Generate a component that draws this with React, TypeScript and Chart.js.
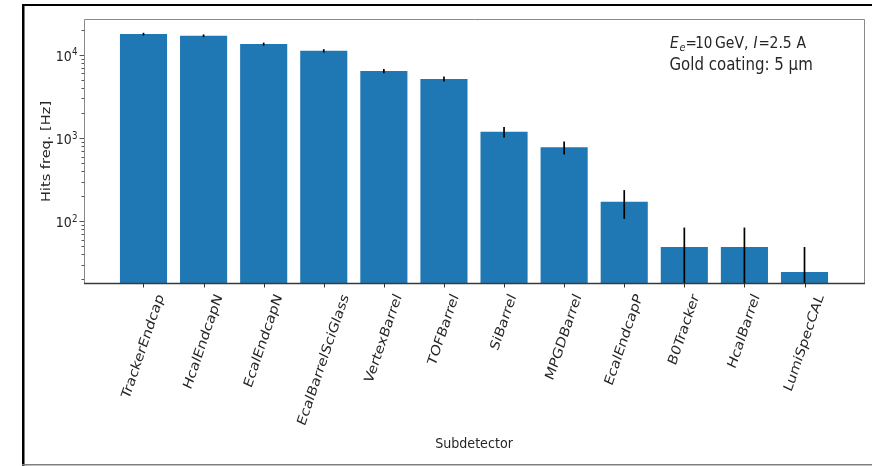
import { useEffect, useRef } from 'react';
import { Chart, registerables } from 'chart.js';

Chart.register(...registerables);

const categories = [
  'TrackerEndcap',
  'HcalEndcapN',
  'EcalEndcapN',
  'EcalBarrelSciGlass',
  'VertexBarrel',
  'TOFBarrel',
  'SiBarrel',
  'MPGDBarrel',
  'EcalEndcapP',
  'B0Tracker',
  'HcalBarrel',
  'LumiSpecCAL',
];
const hitsFreq = [17800, 17000, 13500, 11200, 6400, 5150, 1190, 775, 172, 49, 49, 24.5];
const hitsErr = [660, 640, 575, 525, 395, 355, 170, 138, 65, 35, 35, 24.5];
const yMajorTicks = [100, 1000, 10000];
const yMajorExponents = ['2', '3', '4'];
const yRange = [18.1, 26300];
const xRange = [-0.99, 11.99];
const xAxisTitle = 'Subdetector';
const yAxisTitle = 'Hits freq. [Hz]';
const noteLine2 = 'Gold coating: 5 \u03bcm';

const FONT = '"DejaVu Sans", "Liberation Sans", sans-serif';
const TEXT = '#262626';
const STRETCH = 1.13; // the reference picture is stretched vertically
const XLABEL_STRETCH = 1.19;

function txt(ctx: CanvasRenderingContext2D, s: string, x: number, y: number, font: string) {
  ctx.save();
  ctx.font = font;
  ctx.translate(x, y);
  ctx.scale(1, STRETCH);
  ctx.fillText(s, 0, 0);
  ctx.restore();
}

const drawPlugin = {
  id: 'mplLook',
  beforeDraw(chart: any) {
    const ctx = chart.ctx as CanvasRenderingContext2D;
    ctx.save();
    ctx.fillStyle = '#ffffff';
    ctx.fillRect(0, 0, chart.width, chart.height);
    // outer frame
    ctx.fillStyle = '#000000';
    ctx.fillRect(22, 4, chart.width - 22, 2);
    ctx.fillRect(22, 4, 2.5, chart.height - 4);
    ctx.fillStyle = '#7f7f7f';
    ctx.fillRect(22, 464, chart.width - 22, 1.5);
    ctx.restore();
  },
  afterDatasetsDraw(chart: any) {
    const ctx = chart.ctx as CanvasRenderingContext2D;
    const xs = chart.scales.x;
    const ys = chart.scales.y;
    const area = chart.chartArea;

    // error bars
    ctx.save();
    ctx.beginPath();
    ctx.rect(area.left, area.top, area.right - area.left, area.bottom - area.top);
    ctx.clip();
    ctx.strokeStyle = '#000000';
    ctx.lineWidth = 1.7;
    hitsFreq.forEach((v, i) => {
      const x = xs.getPixelForValue(i);
      const lo = v - hitsErr[i];
      const yLo = lo > 0 ? Math.min(ys.getPixelForValue(lo), area.bottom) : area.bottom;
      const yHi = ys.getPixelForValue(v + hitsErr[i]);
      ctx.beginPath();
      ctx.moveTo(x, yLo);
      ctx.lineTo(x, yHi);
      ctx.stroke();
    });
    ctx.restore();

    ctx.save();
    // spines
    ctx.lineWidth = 1;
    ctx.strokeStyle = '#8a8a8a';
    ctx.beginPath();
    ctx.moveTo(area.left + 0.5, area.bottom);
    ctx.lineTo(area.left + 0.5, area.top - 0.5);
    ctx.lineTo(area.right + 0.5, area.top - 0.5);
    ctx.lineTo(area.right + 0.5, area.bottom);
    ctx.stroke();
    ctx.strokeStyle = '#3a3a3a';
    ctx.lineWidth = 1.4;
    ctx.beginPath();
    ctx.moveTo(area.left, area.bottom + 0.5);
    ctx.lineTo(area.right + 1, area.bottom + 0.5);
    ctx.stroke();

    // y ticks
    ctx.strokeStyle = '#555555';
    ctx.lineWidth = 1;
    const [ymin, ymax] = yRange;
    for (let e = Math.floor(Math.log10(ymin)); e <= Math.ceil(Math.log10(ymax)); e++) {
      for (let k = 1; k <= 9; k++) {
        const v = k * Math.pow(10, e);
        if (v < ymin || v > ymax) continue;
        const y = Math.round(ys.getPixelForValue(v)) + 0.5;
        const len = k === 1 ? 4.5 : 2.5;
        ctx.beginPath();
        ctx.moveTo(area.left - len, y);
        ctx.lineTo(area.left, y);
        ctx.stroke();
      }
    }
    // y tick labels
    ctx.fillStyle = TEXT;
    ctx.textBaseline = 'alphabetic';
    yMajorTicks.forEach((v, i) => {
      const y = ys.getPixelForValue(v);
      ctx.font = `8.7px ${FONT}`;
      const supW = ctx.measureText(yMajorExponents[i]).width;
      ctx.textAlign = 'right';
      const right = area.left - 6.5;
      txt(ctx, yMajorExponents[i], right, y + 0.5, `8.7px ${FONT}`);
      txt(ctx, '10', right - supW - 0.3, y + 6, `12.6px ${FONT}`);
    });

    // x ticks
    ctx.strokeStyle = '#333333';
    ctx.lineWidth = 1;
    categories.forEach((_, i) => {
      const x = Math.round(xs.getPixelForValue(i)) + 0.5;
      ctx.beginPath();
      ctx.moveTo(x, area.bottom);
      ctx.lineTo(x, area.bottom + 4.5);
      ctx.stroke();
    });

    // x tick labels rotated, bbox centred under tick
    const xFont = 12.8;
    ctx.font = `${xFont}px ${FONT}`;
    const ang = (68 * Math.PI) / 180;
    const lh = xFont * 1.1;
    categories.forEach((label, i) => {
      const x = xs.getPixelForValue(i);
      const w = ctx.measureText(label).width;
      const H = XLABEL_STRETCH * (w * Math.sin(ang) + lh * Math.cos(ang));
      const cy = area.bottom + 9 + H / 2;
      ctx.save();
      ctx.translate(x, cy);
      ctx.scale(1, XLABEL_STRETCH);
      ctx.rotate(-ang);
      ctx.textAlign = 'center';
      ctx.textBaseline = 'middle';
      ctx.fillText(label, 0, 0);
      ctx.restore();
    });

    // axis titles
    ctx.textAlign = 'center';
    ctx.textBaseline = 'alphabetic';
    txt(ctx, xAxisTitle, (area.left + area.right) / 2, 448, `12.7px ${FONT}`);
    ctx.save();
    ctx.font = `12.9px ${FONT}`;
    ctx.translate(50, (area.top + area.bottom) / 2);
    ctx.scale(1, STRETCH);
    ctx.rotate(-Math.PI / 2);
    ctx.fillText(yAxisTitle, 0, 0);
    ctx.restore();

    // annotation
    ctx.textAlign = 'left';
    const b1 = 47.5;
    const b2 = 69.5;
    txt(ctx, 'E', 670, b1, `italic 13.8px ${FONT}`);
    txt(ctx, 'e', 679.5, b1 + 3, `italic 9.8px ${FONT}`);
    txt(ctx, '=', 685.6, b1, `13.5px ${FONT}`);
    txt(ctx, '10', 695.2, b1, `13.5px ${FONT}`);
    txt(ctx, 'GeV,', 715, b1, `14px ${FONT}`);
    txt(ctx, 'I', 753.5, b1, `italic 13.8px ${FONT}`);
    txt(ctx, '=', 758.6, b1, `13.5px ${FONT}`);
    txt(ctx, '2.5', 769.5, b1, `14px ${FONT}`);
    txt(ctx, 'A', 796.5, b1, `14px ${FONT}`);
    txt(ctx, noteLine2, 669.5, b2, `15px ${FONT}`);
    ctx.restore();
  },
};

export default function App() {
  const canvasRef = useRef<HTMLCanvasElement | null>(null);

  useEffect(() => {
    if (!canvasRef.current) return;
    const chart = new Chart(canvasRef.current, {
      type: 'bar',
      data: {
        datasets: [
          {
            data: hitsFreq.map((v, i) => ({ x: i, y: v })),
            backgroundColor: '#1f77b4',
            borderWidth: 0,
            barPercentage: 0.8,
            categoryPercentage: 1.0,
          },
        ],
      },
      options: {
        responsive: false,
        animation: false,
        events: [],
        layout: { padding: { left: 84, right: 8, top: 20, bottom: 183 } },
        plugins: {
          legend: { display: false },
          tooltip: { enabled: false },
          title: { display: false },
        },
        scales: {
          x: {
            type: 'linear',
            display: false,
            min: xRange[0],
            max: xRange[1],
            bounds: 'data',
            offset: false,
            grid: { display: false, offset: false },
          },
          y: {
            type: 'logarithmic',
            display: false,
            min: yRange[0],
            max: yRange[1],
            bounds: 'data',
            grid: { display: false },
          },
        },
      } as any,
      plugins: [drawPlugin],
    });
    return () => chart.destroy();
  }, []);

  return (
    <div style={{ position: 'fixed', left: 0, top: 0, width: 872, height: 466, background: '#fff' }}>
      <canvas ref={canvasRef} width={872} height={466} style={{ display: 'block', width: 872, height: 466 }} />
    </div>
  );
}
